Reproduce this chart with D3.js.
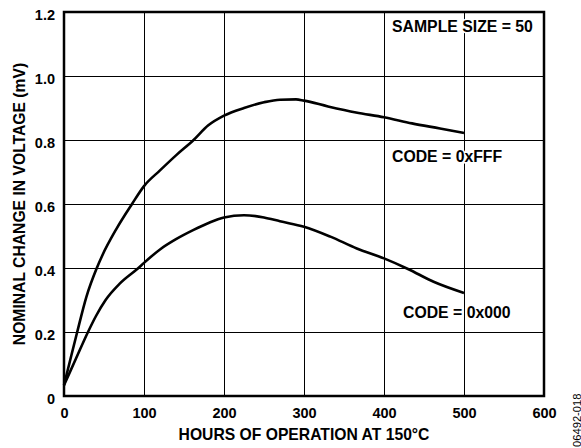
<!DOCTYPE html>
<html>
<head>
<meta charset="utf-8">
<script src="https://cdn.jsdelivr.net/npm/d3@7"></script>
<style>
  html, body { margin: 0; padding: 0; background: #fff; }
  svg { display: block; }
  text { font-family: "Liberation Sans", Arial, Helvetica, sans-serif; fill: #000; }
</style>
</head>
<body>
<svg id="chart" width="581" height="448"></svg>
<script>
// Drift of the output voltage versus hours of operation at 150°C
const hoursFFF = [0, 8, 16.5, 28, 41, 48, 65, 85, 100, 120, 140, 162, 180, 200, 225, 250, 270, 290, 300, 330, 365, 400, 435, 470, 500];
const driftFFF = [0.034, 0.115, 0.20, 0.31, 0.40, 0.44, 0.52, 0.60, 0.656, 0.705, 0.752, 0.80, 0.845, 0.876, 0.90, 0.918, 0.926, 0.927, 0.923, 0.905, 0.886, 0.871, 0.852, 0.836, 0.822];

const hours000 = [0, 15, 30, 40, 52, 70, 93, 100, 120, 140, 162, 180, 200, 225, 250, 270, 300, 333, 366, 400, 430, 462, 500];
const drift000 = [0.034, 0.117, 0.20, 0.25, 0.30, 0.352, 0.40, 0.416, 0.458, 0.49, 0.519, 0.54, 0.558, 0.565, 0.558, 0.546, 0.529, 0.498, 0.461, 0.43, 0.397, 0.357, 0.322];

const xTicks = [0, 100, 200, 300, 400, 500, 600];
const yTicks = [0, 0.2, 0.4, 0.6, 0.8, 1.0, 1.2];
const yTickLabels = ["0", "0.2", "0.4", "0.6", "0.8", "1.0", "1.2"];

const xTitle = "HOURS OF OPERATION AT 150°C";
const yTitle = "NOMINAL CHANGE IN VOLTAGE (mV)";
const seriesLabels = ["CODE = 0xFFF", "CODE = 0x000"];
const noteLabel = "SAMPLE SIZE = 50";
const figureId = "06492-018";

const svg = d3.select("#chart");
const plotL = 64, plotR = 544, plotT = 12, plotB = 396;

const x = d3.scaleLinear().domain([0, 600]).range([plotL, plotR]);
const y = d3.scaleLinear().domain([0, 1.2]).range([plotB, plotT]);

// grid
const gridX = svg.append("g")
  .attr("transform", `translate(0,${plotB})`)
  .call(d3.axisBottom(x).tickValues(xTicks.slice(1, -1)).tickSize(-(plotB - plotT)).tickFormat(""));
const gridY = svg.append("g")
  .attr("transform", `translate(${plotL},0)`)
  .call(d3.axisLeft(y).tickValues(yTicks.slice(1, -1)).tickSize(-(plotR - plotL)).tickFormat(""));
[gridX, gridY].forEach(g => {
  g.select(".domain").remove();
  g.selectAll(".tick line").attr("stroke", "#000").attr("stroke-width", 1);
});

// tick labels
const xAxis = svg.append("g")
  .attr("transform", `translate(0,${plotB})`)
  .call(d3.axisBottom(x).tickValues(xTicks).tickSize(0).tickPadding(12).tickFormat(d3.format("d")));
const yAxis = svg.append("g")
  .attr("transform", `translate(${plotL},0)`)
  .call(d3.axisLeft(y).tickValues(yTicks).tickSize(0).tickPadding(9)
    .tickFormat((d, i) => yTickLabels[i]));
[xAxis, yAxis].forEach(g => {
  g.select(".domain").remove();
  g.selectAll(".tick text")
    .attr("font-family", "Liberation Sans, Arial, sans-serif")
    .attr("font-size", 14.5)
    .attr("font-weight", "bold")
    .attr("fill", "#000");
});
yAxis.selectAll(".tick text").attr("dy", "0.52em");

// frame
svg.append("rect")
  .attr("x", plotL).attr("y", plotT)
  .attr("width", plotR - plotL).attr("height", plotB - plotT)
  .attr("fill", "none").attr("stroke", "#000").attr("stroke-width", 2.5);

// curves
const line = d3.line()
  .x(d => x(d[0]))
  .y(d => y(d[1]))
  .curve(d3.curveMonotoneX);

const series = [
  d3.zip(hoursFFF, driftFFF),
  d3.zip(hours000, drift000)
];
svg.append("g").selectAll("path")
  .data(series)
  .join("path")
  .attr("d", line)
  .attr("fill", "none")
  .attr("stroke", "#000")
  .attr("stroke-width", 2.6)
  .attr("stroke-linejoin", "round");

// annotations
function note(text, px, py) {
  svg.append("text")
    .attr("x", px).attr("y", py)
    .attr("font-size", 15.8)
    .attr("font-weight", "bold")
    .attr("stroke", "#fff").attr("stroke-width", 3)
    .attr("paint-order", "stroke")
    .text(text);
}
note(noteLabel, 392, 32);
note(seriesLabels[0], 392, 162);
note(seriesLabels[1], 403, 318);

// axis titles
svg.append("text")
  .attr("x", (plotL + plotR) / 2).attr("y", 440)
  .attr("text-anchor", "middle")
  .attr("font-size", 15.7).attr("font-weight", "bold")
  .text(xTitle);

svg.append("text")
  .attr("transform", `translate(24.5,${(plotT + plotB) / 2}) rotate(-90)`)
  .attr("text-anchor", "middle")
  .attr("font-size", 15.7).attr("font-weight", "bold")
  .text(yTitle);

// figure id
svg.append("text")
  .attr("transform", "translate(580.5,447) rotate(-90)")
  .attr("font-size", 11.2)
  .text(figureId);
</script>
</body>
</html>
